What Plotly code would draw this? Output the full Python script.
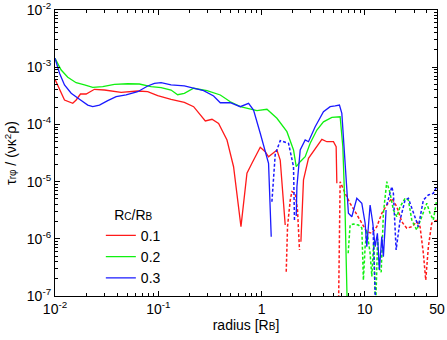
import math
import plotly.graph_objects as go

# ---- data (radius in R_B, |tau| normalised) ----
# Rc/RB = 0.1
r01_pos = [0.01, 0.01106, 0.01236, 0.01486, 0.01603, 0.01765, 0.02003, 0.0241, 0.0301, 0.0437, 0.0632, 0.079,
           0.0987, 0.133, 0.1788, 0.22, 0.2854, 0.3313, 0.3838, 0.4628, 0.5359, 0.632, 0.7224, 0.8075, 0.9714,
           1.086, 1.169, 1.409, 1.517, 1.695, None, 2.405, 2.548, 2.848, 3.306, 3.838, 4.29, 4.97, 5.278, 5.36]
v01_pos = [6.14e-4, 3.99e-4, 2.67e-4, 2.34e-4, 2.67e-4, 3.40e-4, 3.40e-4, 4.11e-4, 3.99e-4, 3.64e-4, 3.84e-4, 3.73e-4,
           3.18e-4, 2.75e-4, 2.43e-4, 2.04e-4, 1.15e-4, 1.23e-4, 1.04e-4, 5.34e-5, 1.82e-5, 1.63e-6, 1.40e-5, 2.09e-5, 3.98e-5,
           3.33e-5, 2.72e-5, 3.57e-5, 2.38e-5, 1.74e-6, None, 8.9e-7, 1.07e-5, 2.55e-5, 3.82e-5, 5.49e-5, 4.98e-5, 4.98e-5, 4.07e-5, 9.34e-6]
r01_neg = [1.734, 1.785, 1.896, 1.968, 2.118, 2.23, 2.331, None, 5.555, 5.62, 5.769, 6.446, 7.205, 8.056, 9.006, 10.45,
           11.69, 13.07, 14.6, 16.32, 18.25, 20.4, 22.8, 25.48, 28.49, 31.84, 34.27, 36.88, 38.9, 41.25, 44.46, 49.7]
v01_neg = [2.66e-7, 1.63e-6, 4.77e-6, 6.66e-6, 6.25e-6, 3.19e-6, 6.37e-7, None, 5e-8, 6.4e-7, 9.96e-6, 6.25e-6, 4.17e-6, 2.98e-6, 2.13e-6, 1.33e-6,
           1.25e-6, 1.63e-6, 2.79e-6, 3.90e-6, 5.10e-6, 3.64e-6, 1.99e-6, 1.53e-6, 1.63e-6, 1.99e-6, 1.63e-6, 5.58e-7, 1.90e-7, 7.27e-7, 1.87e-6, 2.13e-6]

# Rc/RB = 0.2
r02_pos = [0.01, 0.01148, 0.0133, 0.01603, 0.0193, 0.0232, 0.029, 0.0376, 0.0506, 0.0656, 0.0852, 0.1065, 0.133, 0.154,
           0.1788, 0.22, 0.2965, 0.3987, 0.4982, 0.6223, 0.9027, 1.128, 1.409, 1.761, 2.04, 2.166, 2.368, 2.646, 2.958,
           3.434, 3.977, 4.797, 5.769, 6.125, 6.446, 6.784]
v02_pos = [1.43e-3, 8.93e-4, 6.66e-4, 5.36e-4, 4.89e-4, 4.45e-4, 4.56e-4, 5.02e-4, 5.14e-4, 5.08e-4, 4.56e-4, 4.38e-4, 3.99e-4, 3.30e-4,
           3.50e-4, 4.28e-4, 3.88e-4, 3.27e-4, 2.49e-4, 2.04e-4, 1.74e-4, 1.84e-4, 1.28e-4, 7.46e-5, 3.57e-5, 1.82e-5, 2.23e-5, 2.72e-5, 4.67e-5,
           7.98e-5, 1.11e-4, 1.33e-4, 1.36e-4, 4.07e-5, 2.79e-6, 5e-8]
r02_neg = [6.9, 7.205, 7.756, 8.67, 9.354, 9.69, 10.07, 10.45, 11.25, 11.69, 12.2, 12.7, 13.3, 13.8, 14.4, 15.13, 16.32,
           17.57, 18.91, 20.4, 21.95, 24.53, 26.41, 28.49, 31.84, 35.6, 39.8, 42.8, 46.07, 49.7]
v02_neg = [5.6e-7, 1.74e-6, 1.81e-6, 1.74e-6, 1.55e-6, 1.9e-7, 7.3e-7, 1.42e-6, 5.6e-7, 2.2e-7, 9e-7, 5e-8, 1.0e-6, 3e-7, 2.6e-7, 2.79e-6, 9.96e-6,
           6.25e-6, 3.19e-6, 2.43e-6, 3.64e-6, 5.10e-6, 4.77e-6, 2.13e-6, 1.42e-6, 2.43e-6, 4.17e-6, 2.79e-6, 2.13e-6, 4.77e-6]

# Rc/RB = 0.3
r03_pos = [0.01, 0.01106, 0.01236, 0.01434, 0.01726, 0.02076, 0.0232, 0.02694, 0.0324, 0.0391, 0.0488, 0.0632, 0.079,
           0.0917, 0.1065, 0.133, 0.1788, 0.2748, 0.3434, 0.3987, 0.4982, 0.6223, 0.7486, 0.8367, 0.9714, 1.086, 1.169,
           1.241, None, 2.166, 2.2, 2.368, 2.646, 2.848, 3.306, 3.977, 4.618, 5.162, 5.68, 5.99, 6.446, 6.937, 7.484,
           8.366, 9.354, 10.07, 10.45, 11.25, 11.95, 12.58, 13.24, 13.84, 14.6, 15.13, 16.07]
v03_pos = [1.43e-3, 7.82e-4, 4.89e-4, 3.50e-4, 2.75e-4, 2.18e-4, 2.04e-4, 2.18e-4, 2.60e-4, 3.05e-4, 3.27e-4, 3.73e-4, 4.69e-4,
           5.23e-4, 5.36e-4, 4.89e-4, 4.7e-4, 3.88e-4, 3.14e-4, 2.39e-4, 2.39e-4, 2.04e-4, 2.34e-4, 1.78e-4, 6.99e-5, 3.57e-5, 2.09e-5,
           1.09e-6, None, 2.5e-6, 8.15e-6, 3.57e-5, 5.34e-5, 4.98e-5, 9.12e-5, 1.67e-4, 2.04e-4, 2.1e-4, 2.18e-4, 1.56e-4, 2.09e-5, 2.79e-6, 2.43e-6,
           5.10e-6, 4.17e-6, 1.87e-6, 7.27e-7, 3.90e-6, 1.87e-6, 7.27e-7, 1.25e-6, 2.85e-7, 1.09e-6, 4.87e-7, 3.19e-6]
r03_neg = [1.26, 1.357, 1.517, 1.825, 2.04, 2.085, None, 12.0, 12.4, 12.8, None, 16.32, 18.25, 18.91, 20.1, 21.95, 24.53,
           26.41, 29.5, 33.0, 36.88, 41.25, 46.07, 49.7]
v03_neg = [4.45e-6, 3.0e-5, 5.19e-5, 4.67e-5, 1.82e-5, 2.0e-6, None, 1.6e-6, 4e-7, 5e-8, None, 3.9e-6, 8.15e-6, 6.25e-6, 6.4e-7, 2.13e-6, 4.77e-6,
           5.1e-6, 2.79e-6, 1.63e-6, 4.77e-6, 5.83e-6, 6.25e-6, 8.15e-6]

labels = ["0.1", "0.2", "0.3"]
x_tickvals = [0.01, 0.1, 1, 10, 50]
x_ticktext = ["10<sup>-2</sup>", "10<sup>-1</sup>", "1", "10", "50"]
y_tickvals = [1e-7, 1e-6, 1e-5, 1e-4, 1e-3, 1e-2]
y_ticktext = ["10<sup>-7</sup>", "10<sup>-6</sup>", "10<sup>-5</sup>", "10<sup>-4</sup>", "10<sup>-3</sup>", "10<sup>-2</sup>"]

colors = ["#ff1a1a", "#10f010", "#1a1aff"]
series = [(r01_pos, v01_pos, r01_neg, v01_neg),
          (r02_pos, v02_pos, r02_neg, v02_neg),
          (r03_pos, v03_pos, r03_neg, v03_neg)]

fig = go.Figure()
for (rp, vp, rn, vn), c, lab in zip(series, colors, labels):
    fig.add_trace(go.Scatter(x=rn, y=vn, mode="lines", showlegend=False, connectgaps=False,
                             line=dict(color=c, width=1.5, dash="3px,2px")))
    fig.add_trace(go.Scatter(x=rp, y=vp, mode="lines", name=lab, connectgaps=False,
                             line=dict(color=c, width=1.3)))

minor_x = [k * 10 ** e for e in range(-2, 2) for k in range(2, 10) if k * 10 ** e < 50]
minor_y = [k * 10.0 ** e for e in range(-7, -2) for k in range(2, 10)]

axis_common = dict(type="log", showline=True, linecolor="black", linewidth=1.2, mirror="allticks",
                   ticks="inside", ticklen=5, tickcolor="black", tickwidth=1, showgrid=False, zeroline=False,
                   tickfont=dict(size=14), automargin=False)

small = "<span style='font-size:10px'>{}</span>"

fig.update_xaxes(**axis_common, range=[-2, math.log10(50)], tickmode="array",
                 tickvals=x_tickvals, ticktext=x_ticktext,
                 minor=dict(ticks="inside", ticklen=3, tickcolor="black", tickmode="array", tickvals=minor_x, showgrid=False),
                 title=dict(text="radius [R" + small.format("B") + "]", font=dict(size=14), standoff=4))
fig.update_yaxes(**axis_common, range=[-7, -2], tickmode="array",
                 tickvals=y_tickvals, ticktext=y_ticktext,
                 minor=dict(ticks="inside", ticklen=3, tickcolor="black", tickmode="array", tickvals=minor_y, showgrid=False),
                 title=dict(text="τ" + small.format("rφ") + " / (νκ<sup>2</sup>ρ)", font=dict(size=14), standoff=6))

fig.update_layout(
    width=447, height=340,
    margin=dict(l=55, r=10, t=10, b=44, autoexpand=False),
    plot_bgcolor="white", paper_bgcolor="white",
    font=dict(family="Liberation Sans, Arial, sans-serif", size=14, color="black"),
    legend=dict(x=0.12, y=0.33, xanchor="left", yanchor="top", bgcolor="rgba(0,0,0,0)",
                title=dict(text="R" + small.format("C") + "/R" + small.format("B"), side="top center",
                           font=dict(size=14)),
                font=dict(size=14), tracegroupgap=0, itemwidth=30),
)

fig.write_html("out.html", config={"displayModeBar": False},
               post_script="document.body.style.margin='0';")
